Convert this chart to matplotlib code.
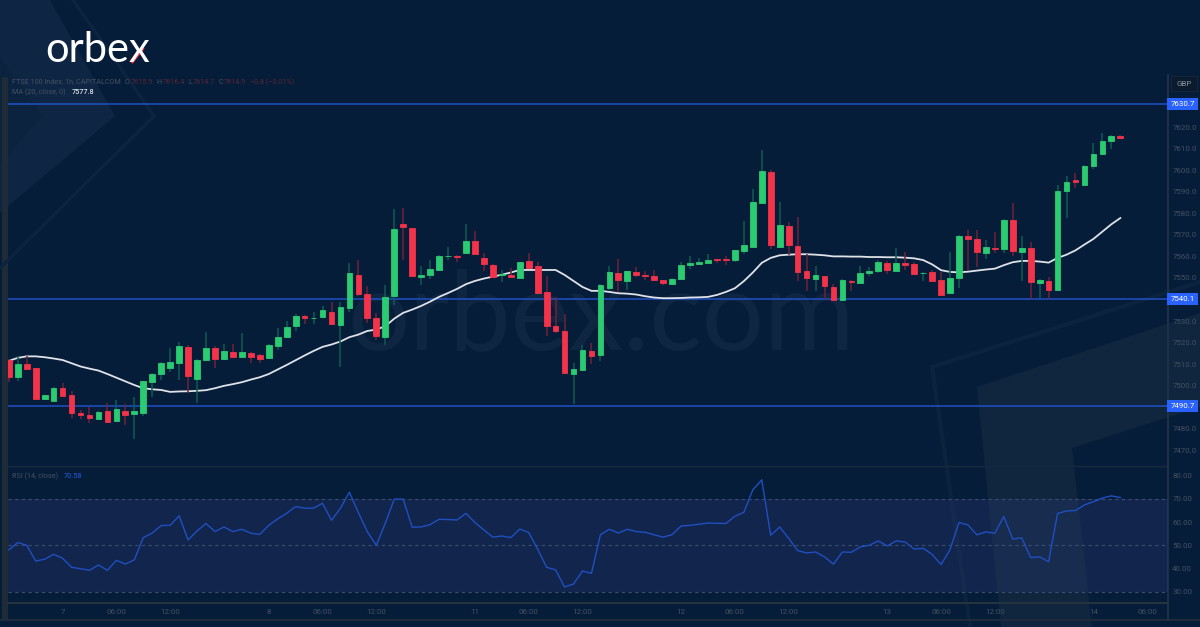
import matplotlib
matplotlib.use("Agg")
import matplotlib.pyplot as plt
from matplotlib.patches import Polygon, Rectangle
from matplotlib.transforms import blended_transform_factory, offset_copy

opens = [7512.1,7504.2,7510,7508.2,7493.7,7492.9,7498.9,7495.6,7487.2,7486.3,
7484.6,7488.1,7483.6,7488.1,7486.9,7487.5,7501.6,7505.3,7508.4,7510.6,
7518,7503.1,7512.1,7517.7,7512.6,7515.8,7513.2,7515.2,7514.3,7512.9,
7518.4,7522.8,7527.6,7532.5,7531.4,7531.9,7534.2,7528.2,7536.1,7551.2,
7542.7,7531.6,7522.6,7541.6,7574.9,7573,7550.3,7551.4,7553.7,7560,
7560.4,7561.8,7567,7559.4,7556.2,7551.2,7551.4,7550.2,7558,7555.6,
7543.7,7527.9,7525.3,7505.3,7507.2,7516.3,7514.1,7545.5,7552.3,7548.8,
7552.9,7551.2,7551.1,7548.9,7547,7549.7,7556,7556.3,7556.9,7558.8,
7558.6,7558.4,7562.7,7564.4,7585,7599.3,7564.4,7574,7564.8,7553.1,
7549.7,7550.8,7546,7539.8,7548.8,7547.8,7552.3,7553.1,7557,7553.3,
7557.1,7556.6,7552.2,7552.6,7549.2,7543,7550.1,7569.5,7568.1,7561.7,
7563.8,7563.6,7577.1,7562.2,7563.9,7547.8,7548.4,7544.4,7590.5,7595.3,
7593.1,7601.9,7607.4,7613.5,7615.9]
closes = [7503.9,7510.2,7507.8,7494,7495.6,7499.1,7495.2,7487.2,7486.3,7484.9,
7487.8,7483.2,7489,7486.4,7488.1,7502,7505.3,7510.6,7511,7518.3,
7504.4,7511.8,7517.4,7512.4,7516.1,7513.2,7515.5,7513.2,7512.6,7518.8,
7522.8,7527.4,7532.4,7531.4,7531.6,7535,7528.5,7536.7,7552.2,7542.4,
7531.4,7522.9,7541.3,7572.6,7573.5,7550.9,7551.5,7554.2,7560.4,7560.2,
7559.6,7567.2,7561.1,7556.3,7550.6,7551.7,7550.3,7557.4,7554.6,7543,
7527.9,7525.3,7505.9,7507.8,7516.4,7513.8,7546.9,7552.6,7549.2,7553.2,
7551.2,7551,7549.1,7547.5,7549.7,7556.2,7556.8,7557.6,7558.5,7558.2,
7558.4,7562.8,7565.5,7585.4,7599.5,7565.2,7574.4,7565.2,7552.8,7550.2,
7551.2,7546.1,7539.8,7549.1,7548,7552.5,7553.4,7557.3,7553.6,7557,
7556.2,7551.7,7552.4,7548.8,7542,7549.8,7569.5,7568.1,7562,7564.4,
7563.3,7577.1,7562.4,7563.8,7548.1,7549.1,7544.6,7590.5,7594.7,7594.7,
7601.9,7607.7,7613.4,7615.7,7614.9]
highs = [7512.5,7513.8,7513.6,7508.4,7495.8,7499.3,7501,7497.4,7488.9,7490.1,
7488.1,7492.1,7493.5,7491.4,7494.6,7502.2,7506.1,7511,7517.7,7520.1,
7518.8,7512.3,7524.8,7518.3,7519.4,7519.5,7524.3,7515.5,7514.5,7519.2,
7526.8,7530.2,7533.1,7532.7,7534.2,7537.2,7538.7,7538.6,7557.1,7558.5,
7546.1,7533.5,7546.9,7582.2,7582.5,7573.2,7555.7,7558.2,7560.6,7564.4,
7560.6,7574.9,7571.8,7561.8,7556.4,7553.9,7554.8,7557.6,7561.6,7557.4,
7551.1,7541,7533.1,7510.7,7518.8,7519.8,7547.4,7555.7,7558.7,7553.4,
7555.1,7553.2,7553.9,7549.1,7550,7557.4,7560.4,7559.1,7561.1,7559,
7560.4,7563,7576.3,7591.3,7609.4,7600.3,7585.1,7576.1,7578.3,7561.3,
7555.7,7551,7547.4,7549.7,7549,7555.4,7555.1,7558.2,7557.9,7563.9,
7562,7557.3,7552.6,7553.5,7552.6,7561.9,7569.7,7572.1,7572.4,7567.5,
7571.2,7577.4,7584.9,7569.5,7566.5,7549.7,7550.3,7593.3,7597.5,7598.9,
7602.2,7612.8,7617.2,7616.3,7616.4]
lows = [7501.7,7502.2,7507.2,7493.8,7493.5,7492.7,7495,7485,7484.6,7482.7,
7484.4,7482.9,7483.5,7481.6,7475.1,7485.8,7494.6,7502.8,7506.2,7502.5,
7496.8,7492,7511.5,7508.2,7512.1,7513,7513,7510.3,7510.6,7512.6,
7516.4,7522.3,7525.4,7528.7,7528.7,7531.7,7528,7508.7,7534.2,7541.8,
7529.1,7521.1,7518.8,7537.3,7558.2,7550.7,7546.6,7549.5,7553.3,7558.2,
7557.3,7561.3,7561,7553.1,7550.3,7548.3,7550,7550,7554.4,7542.6,
7522.9,7524.5,7505.7,7491.7,7506.8,7510,7511.5,7544.3,7543.5,7544.3,
7550.3,7548.9,7548.9,7546.6,7546.5,7549.3,7554,7556,7556.7,7557.1,
7556,7557.4,7561.1,7564.2,7584.8,7563.5,7563.9,7560.7,7548.6,7543.8,
7543.8,7540.1,7539.6,7539.6,7543.8,7547.6,7550.8,7552.3,7551.7,7553,
7553.5,7551.5,7548.8,7548.5,7541.8,7542.8,7545.4,7553.5,7555.1,7558.8,
7561.6,7561.7,7560.4,7548.6,7540.1,7540.9,7540.1,7544.2,7577.8,7591.9,
7592.9,7600.7,7607.2,7609.8,7614.7]
ma20 = [7511.5,7512.9,7513.6,7513.6,7513.2,7512.6,7511.9,7510.4,7508.9,7507.9,
7507,7505.4,7503.7,7502,7500.3,7498.8,7498.3,7498,7497.1,7497.3,
7497.4,7497.6,7497.9,7498.8,7499.9,7500.7,7501.6,7502.8,7503.9,7505.4,
7507.5,7509.6,7511.8,7514,7516.1,7518,7519.1,7520.5,7522.5,7523.7,
7525.4,7526,7527.6,7531.1,7533.8,7535.3,7537,7539,7541.2,7543,
7544.9,7547.1,7548.6,7549.7,7550.6,7551.5,7552.5,7553.7,7553.7,7553.7,
7553.7,7553.7,7551.4,7548.6,7545.8,7544,7544,7543.5,7542.9,7542.7,
7542.3,7541.5,7540.9,7540.6,7540.6,7540.7,7540.9,7541,7541.2,7542.1,
7543.5,7545.2,7548.5,7552.5,7557,7559.3,7560.5,7560.8,7561,7561,
7560.8,7560.5,7560,7560,7559.9,7559.9,7559.7,7559.7,7559.6,7559.6,
7559.4,7559.1,7558.3,7556.3,7553.6,7552.8,7552.6,7552.9,7553.4,7553.9,
7554.3,7555.9,7557.3,7557.9,7557.9,7557.6,7557.1,7559.3,7560.8,7562.8,
7565.5,7568.1,7571.5,7574.9,7577.8]
rsi14 = [48,51.2,50,43.2,44,46.1,44.4,40.5,39.9,39.2,
41.5,39.2,43.5,41.9,43.7,53.3,55.3,58.5,58.6,62.7,
52.3,56.2,59.4,55.9,57.9,55.9,56.9,55.2,54.7,58.6,
61.4,63.8,66.7,66,66,68.1,60.8,66,72.9,64.1,
55.8,50,59.5,69.9,69.9,57.8,57.9,58.9,61.2,61.1,
60.9,63.8,59.8,56.6,53.5,54,53.3,57,55.5,48.3,
40.5,39.4,32,33.3,38.9,37.9,54.6,56.9,55.3,56.9,
55.9,55.6,54.5,53.5,54.6,58.3,58.6,59.1,59.6,59.5,
59.4,62.5,64.2,73.9,78.2,54.3,57.9,53,47.7,46.7,
47.1,45,41.9,47.1,47,49.3,50,51.9,49.7,51.9,
51.4,48.4,48.7,46.1,41.7,48.1,59.8,58.8,54.5,55.8,
55.2,62.4,52.7,53.2,44.7,45,42.9,63.7,64.8,65,
67.4,68.8,70.4,71.3,70.58]
levels = [7630.7, 7540.1, 7490.7]
price_ticks = [7620,7610,7600,7590,7580,7570,7560,7550,7530,7520,7510,7500,7480,7470]
rsi_ticks = [30,40,50,60,70,80]
time_pos = [6,12,18,29,35,41,52,58,64,75,81,87,98,104,110,121,127]
time_labels = ["7","06:00","12:00","8","06:00","12:00","11","06:00","12:00",
               "12","06:00","12:00","13","06:00","12:00","14","06:00"]

W, H = 1200, 627
BG = "#061d3a"
GREEN, RED = "#2bcb72", "#f23349"
GWICK, RWICK = "#0f5c52", "#6f2238"
BLUE = "#1f4fc0"
DIM = "#435162"
FS = 5.2
TS = 5.7
plt.rcParams["font.family"] = "Roboto"

fig = plt.figure(figsize=(W/100, H/100), dpi=100, facecolor=BG)

def rect(l, t, r, b):
    return [l/W, 1-b/H, (r-l)/W, (b-t)/H]

# full-figure layer in pixel coordinates for the decoration
bg = fig.add_axes([0, 0, 1, 1], zorder=0)
bg.set_xlim(0, W); bg.set_ylim(H, 0); bg.axis("off")
bg.add_patch(Polygon([(50,0),(115,116),(0,213),(0,0)], closed=True, fc="#0e2643", ec="none"))
bg.add_patch(Polygon([(0,57),(42,116),(0,165)], closed=True, fc="#0b233f", ec="none"))
bg.plot([73,154,0],[0,116,268], color="#0c243f", lw=2.4, solid_joinstyle="miter")
bg.add_patch(Polygon([(977,387),(1200,313),(1200,407),(1072,448),(1092,627),(1001,627)],
                     closed=True, fc="#0f263e", ec="none"))
bg.plot([1200,932,970],[282,367,627], color="#0c233e", lw=3.0, solid_joinstyle="miter")
bg.text(601, 349, "orbex.com", color="#0f2642", fontsize=79, family="Lato",
        ha="center", va="baseline")
# logo
bg.text(45, 62.5, "orbex", color="white", fontsize=30, family="Lato", ha="left", va="baseline")
bg.plot([131,143],[62.5,47.5], color="#ee2c3c", lw=3.0, solid_capstyle="butt")
# frame
bg.add_patch(Rectangle((2,77), 5.5, 543, fc="#1f2b37", ec="none"))
bg.plot([8,1168],[466,466], color="#16293f", lw=1)
bg.plot([8,1168],[603,603], color="#26343f", lw=1.4)
bg.plot([0,1200],[619.5,619.5], color="#1e2c3c", lw=1.4)
bg.plot([1168,1168],[75,619], color="#22344a", lw=1.2)
# GBP box
bg.add_patch(Rectangle((1171,76), 26, 15, fc="#0b1a2c", ec="#14263a", lw=0.8))
bg.text(1184, 83.5, "GBP", color="#8a94a0", fontsize=5.8, ha="center", va="center")

# price pane
ax = fig.add_axes(rect(8, 75, 1168, 466), zorder=2, facecolor="none")
ax.set_xlim(-0.09, 129.32)
ax.set_ylim(7462.7, 7644.2)
idx = list(range(len(opens)))
for v in levels:
    ax.axhline(v, color=BLUE, lw=1.15, zorder=1)
ax.plot(idx, ma20, color="#dfe2e6", lw=1.3, zorder=2)
colors = [GREEN if c >= o else RED for o, c in zip(opens, closes)]
wicks = [GWICK if c >= o else RWICK for o, c in zip(opens, closes)]
ax.vlines(idx, lows, highs, colors=wicks, lw=1.1, zorder=3)
ax.bar(idx, [abs(c-o) for o, c in zip(opens, closes)],
       bottom=[min(o, c) for o, c in zip(opens, closes)],
       width=0.64, color=colors, edgecolor=colors, lw=0.6, zorder=4)
ax.yaxis.tick_right()
ax.set_yticks(price_ticks)
ax.set_yticklabels([f"{v:.1f}" for v in price_ticks])
ax.tick_params(axis="y", length=0, pad=3, labelsize=TS, labelcolor=DIM)
ax.set_xticks([])
for s in ax.spines.values():
    s.set_visible(False)
lt = blended_transform_factory(ax.transAxes, ax.transData)
for v in levels:
    ax.text(1.0, v, f"{v:.1f}", transform=offset_copy(lt, fig=fig, x=14.5*0.72, y=0, units="points"),
            color="white", fontsize=TS, ha="center", va="center", clip_on=False, zorder=6,
            bbox=dict(boxstyle="square,pad=0.4", fc="#2962ff", ec="none"))

# legend rows
bg.text(12, 82, "FTSE 100 Index, 1h, CAPITALCOM", color=DIM, fontsize=FS, va="center")
bg.text(125, 82, "O", color=DIM, fontsize=FS, va="center")
bg.text(130.7, 82, "7615.9", color="#5a2634", fontsize=FS, va="center")
bg.text(156.7, 82, "H", color=DIM, fontsize=FS, va="center")
bg.text(162.3, 82, "7616.4", color="#5a2634", fontsize=FS, va="center")
bg.text(188.3, 82, "L", color=DIM, fontsize=FS, va="center")
bg.text(192.7, 82, "7614.7", color="#5a2634", fontsize=FS, va="center")
bg.text(218.3, 82, "C", color=DIM, fontsize=FS, va="center")
bg.text(223.3, 82, "7614.9", color="#5a2634", fontsize=FS, va="center")
bg.text(250, 82, "\u22120.8 (\u22120.01%)", color="#5a2634", fontsize=FS, va="center")
bg.text(12, 92, "MA (20, close, 0)", color=DIM, fontsize=FS, va="center")
bg.text(72, 92, "7577.8", color="#d8dde3", fontsize=FS, va="center", weight="medium")

# RSI pane
rx = fig.add_axes(rect(8, 466, 1168, 603), zorder=2, facecolor="none")
rx.set_xlim(-0.09, 129.32)
rx.set_ylim(25.1, 84.2)
rx.axhspan(30, 70, color="#2f3a78", alpha=0.3, lw=0, zorder=1)
for v in (30, 50, 70):
    rx.axhline(v, color="#3c4d70", lw=0.8, ls=(0, (3, 3)), zorder=2)
rx.plot(idx, rsi14, color=BLUE, lw=1.0, zorder=3)
rx.yaxis.tick_right()
rx.set_yticks(rsi_ticks)
rx.set_yticklabels([f"{v:.2f}" for v in rsi_ticks])
rx.tick_params(axis="y", length=0, pad=3, labelsize=TS, labelcolor=DIM)
rx.set_xticks(time_pos)
rx.set_xticklabels(time_labels)
rx.tick_params(axis="x", length=0, pad=4, labelsize=TS, labelcolor=DIM)
for s in rx.spines.values():
    s.set_visible(False)
bg.text(12, 476, "RSI (14, close)", color=DIM, fontsize=FS, va="center")
bg.text(63.5, 476, "70.58", color=BLUE, fontsize=FS, va="center", weight="medium")

fig.savefig("out.png", dpi=100, facecolor=BG)
